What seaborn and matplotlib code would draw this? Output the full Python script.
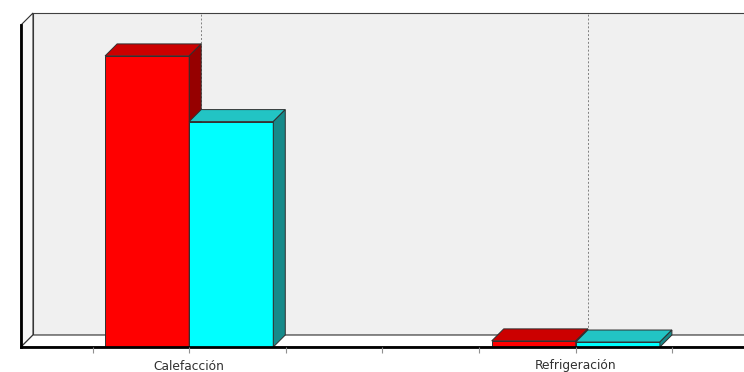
import numpy as np
import pandas as pd
import matplotlib
matplotlib.use("Agg")
import matplotlib.pyplot as plt
from matplotlib.patches import Polygon, Rectangle
import seaborn as sns

# ---- data ----
categories = ["Calefacción", "Refrigeración"]
series_names = ["Serie 1", "Serie 2"]
values_serie1 = [9040, 190]
values_serie2 = [7000, 155]
colors_front = ["#ff0000", "#00ffff"]
colors_top = ["#cc0000", "#22c4c4"]
colors_side = ["#960000", "#168a8a"]

df = pd.DataFrame({
    "cat": categories * 2,
    "serie": [series_names[0]] * 2 + [series_names[1]] * 2,
    "val": values_serie1 + values_serie2,
})

sns.set_style("white")
plt.rcParams["font.family"] = ["DejaVu Sans"]

W, H = 744, 372
fig = plt.figure(figsize=(W / 100, H / 100), dpi=100)
fig.patch.set_facecolor("white")
ax_l, ax_b, ax_w, ax_h = 21, 25, 723, 322
ax = fig.add_axes([ax_l / W, ax_b / H, ax_w / W, ax_h / H])
ax.set_facecolor("none")

sns.barplot(data=df, x="cat", y="val", hue="serie", palette=colors_front,
            width=0.435, gap=0, edgecolor="#303030", linewidth=0.7,
            legend=False, ax=ax, saturation=1)

x0, x1 = -0.435, 1.435
ymax = 10000
ax.set_xlim(x0, x1)
ax.set_ylim(0, ymax)

depth_px = 12
dx = depth_px * (x1 - x0) / ax_w
dy = depth_px * ymax / ax_h

# back wall
ax.add_patch(Rectangle((x0 + dx, dy), x1 - x0, ymax, facecolor="#f0f0f0",
                       edgecolor="#404040", lw=0.8, zorder=0.1, clip_on=False))
# left side wall
ax.add_patch(Polygon([(x0, 0), (x0, ymax), (x0 + dx, ymax + dy), (x0 + dx, dy)],
                     closed=True, facecolor="#f8f8f8", edgecolor="#303030",
                     lw=0.8, zorder=0.2, clip_on=False))
# floor
ax.add_patch(Polygon([(x0, 0), (x1, 0), (x1 + dx, dy), (x0 + dx, dy)],
                     closed=True, facecolor="#ffffff", edgecolor="#303030",
                     lw=0.8, zorder=0.2, clip_on=False))
# dashed gridlines on back wall
for i in range(len(categories)):
    ax.plot([i + dx, i + dx], [dy, ymax + dy], ls=(0, (2, 2)), color="#808080",
            lw=0.7, zorder=0.3, clip_on=False)

# 3D faces for bars
bars = sorted([p for p in ax.patches if isinstance(p, Rectangle) and p.get_width() < 0.5
               and p.get_zorder() >= 0.9], key=lambda p: p.get_x())
for k, p in enumerate(bars):
    bx, bw, bh = p.get_x(), p.get_width(), p.get_height()
    ci = 0 if (bx + bw / 2) < round(bx + bw / 2) else 1
    z = 2 + 0.1 * k
    p.set_zorder(z)
    ax.add_patch(Polygon([(bx, bh), (bx + bw, bh), (bx + bw + dx, bh + dy), (bx + dx, bh + dy)],
                         closed=True, facecolor=colors_top[ci], edgecolor="#303030",
                         lw=0.7, zorder=z, clip_on=False))
    ax.add_patch(Polygon([(bx + bw, 0), (bx + bw, bh), (bx + bw + dx, bh + dy), (bx + bw + dx, dy)],
                         closed=True, facecolor=colors_side[ci], edgecolor="#303030",
                         lw=0.7, zorder=z, clip_on=False))

# front axis lines
for s in ["top", "right"]:
    ax.spines[s].set_visible(False)
for s in ["left", "bottom"]:
    ax.spines[s].set_linewidth(2)
    ax.spines[s].set_color("black")
    ax.spines[s].set_zorder(5)

ax.set_axisbelow(False)
ax.xaxis.set_zorder(6)
ax.set_xticks([0, 1])
ax.set_xticklabels(categories)
ax.set_xticks([-0.25, 0.25, 0.5, 0.75, 1.25], minor=True)
for which in ["major", "minor"]:
    ax.tick_params(axis="x", which=which, direction="out", length=4, width=0.8,
                   color="#909090", pad=5, labelsize=8.8, labelcolor="#303030",
                   bottom=True)
ax.set_yticks([])
ax.set_xlabel("")
ax.set_ylabel("")

fig.savefig("out.png", dpi=100)
